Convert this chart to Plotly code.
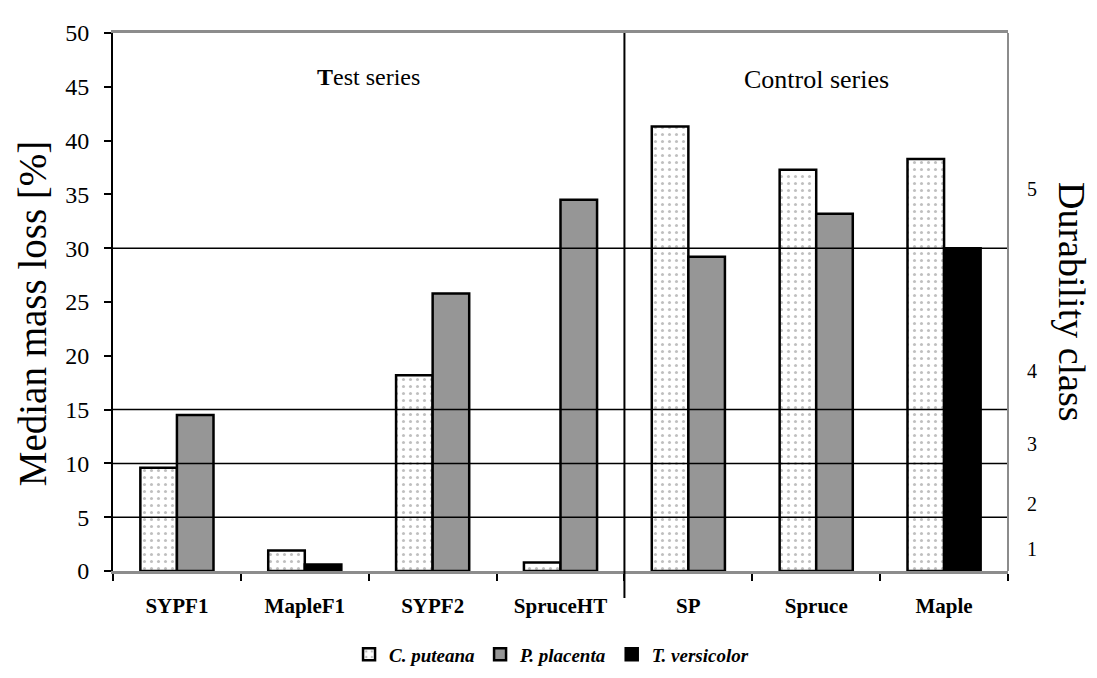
import plotly.graph_objects as go

categories = ["SYPF1", "MapleF1", "SYPF2", "SpruceHT", "SP", "Spruce", "Maple"]
c_puteana = [9.6, 1.9, 18.2, 0.8, 41.3, 37.3, 38.3]
p_placenta = [14.5, None, 25.8, 34.5, 29.2, 33.2, None]
t_versicolor = [None, 0.6, None, None, None, None, 30.0]

class_bounds = [5, 10, 15, 30]
class_labels = ["1", "2", "3", "4", "5"]
class_label_pos = [2.0, 6.25, 11.8, 18.6, 35.5]

series_labels = ["Test series", "Control series"]

FONT = "Times New Roman, 'Liberation Serif', serif"

fig = go.Figure()
fig.add_trace(go.Bar(
    x=categories, y=c_puteana, name="C. puteana", offsetgroup="a",
    marker=dict(color="white", line=dict(color="black", width=2.5),
                pattern=dict(shape=".", size=7, solidity=0.15,
                             fgcolor="#808080", bgcolor="white")),
))
fig.add_trace(go.Bar(
    x=categories, y=p_placenta, name="P. placenta", offsetgroup="b",
    marker=dict(color="#969696", line=dict(color="black", width=2.5)),
))
fig.add_trace(go.Bar(
    x=categories, y=t_versicolor, name="T. versicolor", offsetgroup="b",
    marker=dict(color="black", line=dict(color="black", width=2.5)),
))

shapes = []
for b in class_bounds:
    shapes.append(dict(type="line", xref="paper", x0=0, x1=1, yref="y", y0=b, y1=b,
                       line=dict(color="black", width=1.5), layer="above"))
# separator between test and control series
shapes.append(dict(type="line", xref="x", x0=3.5, x1=3.5, yref="paper", y0=-0.05, y1=1,
                   line=dict(color="black", width=2), layer="above"))
# right border
shapes.append(dict(type="line", xref="paper", x0=1, x1=1, yref="paper", y0=0, y1=1,
                   line=dict(color="#8c8c8c", width=2), layer="above"))

annotations = [
    dict(text="<b>T</b>est series", x=1.5, xref="x", y=45.9, yref="y", showarrow=False,
         font=dict(family=FONT, size=24, color="black")),
    dict(text=series_labels[1], x=5, xref="x", y=45.7, yref="y", showarrow=False,
         font=dict(family=FONT, size=26, color="black")),
    dict(text="Median mass loss [%]", x=-0.09, xref="paper", y=0.48, yref="paper",
         textangle=-90, showarrow=False, xanchor="center", yanchor="middle",
         font=dict(family=FONT, size=39, color="black")),
    dict(text="Durability class", x=1.0715, xref="paper", y=0.5, yref="paper",
         textangle=90, showarrow=False, xanchor="center", yanchor="middle",
         font=dict(family=FONT, size=38, color="black")),
]
for lab, pos in zip(class_labels, class_label_pos):
    annotations.append(dict(text=lab, x=1.027, xref="paper", y=pos, yref="y",
                            showarrow=False, xanchor="center",
                            font=dict(family=FONT, size=20, color="black")))

fig.update_layout(
    width=1097, height=678,
    margin=dict(l=105, r=97, t=12, b=114),
    paper_bgcolor="white", plot_bgcolor="white",
    barmode="group", bargap=0.428, bargroupgap=0,
    font=dict(family=FONT, color="black"),
    shapes=shapes, annotations=annotations,
    legend=dict(orientation="h", x=0.49, xanchor="center", y=-0.155, yanchor="middle",
                font=dict(family=FONT, size=19, color="black", style="italic", weight="bold"),
                itemwidth=30, tracegroupgap=0),
    xaxis=dict(showline=True, linecolor="#8c8c8c", linewidth=3, mirror=True,
               ticks="outside", tickson="boundaries", ticklen=7, tickwidth=2, tickcolor="black",
               tickfont=dict(family=FONT, size=21, color="black", weight="bold"),
               ticklabelstandoff=14,
               showgrid=False, layer="below traces"),
    yaxis=dict(range=[0, 50], dtick=5, showline=True, linecolor="black", linewidth=2,
               ticks="outside", ticklen=7, tickwidth=2, tickcolor="black",
               tickfont=dict(family=FONT, size=24, color="black"),
               ticklabelstandoff=10,
               showgrid=False, zeroline=False, layer="below traces"),
)

fig.write_html("out.html")
